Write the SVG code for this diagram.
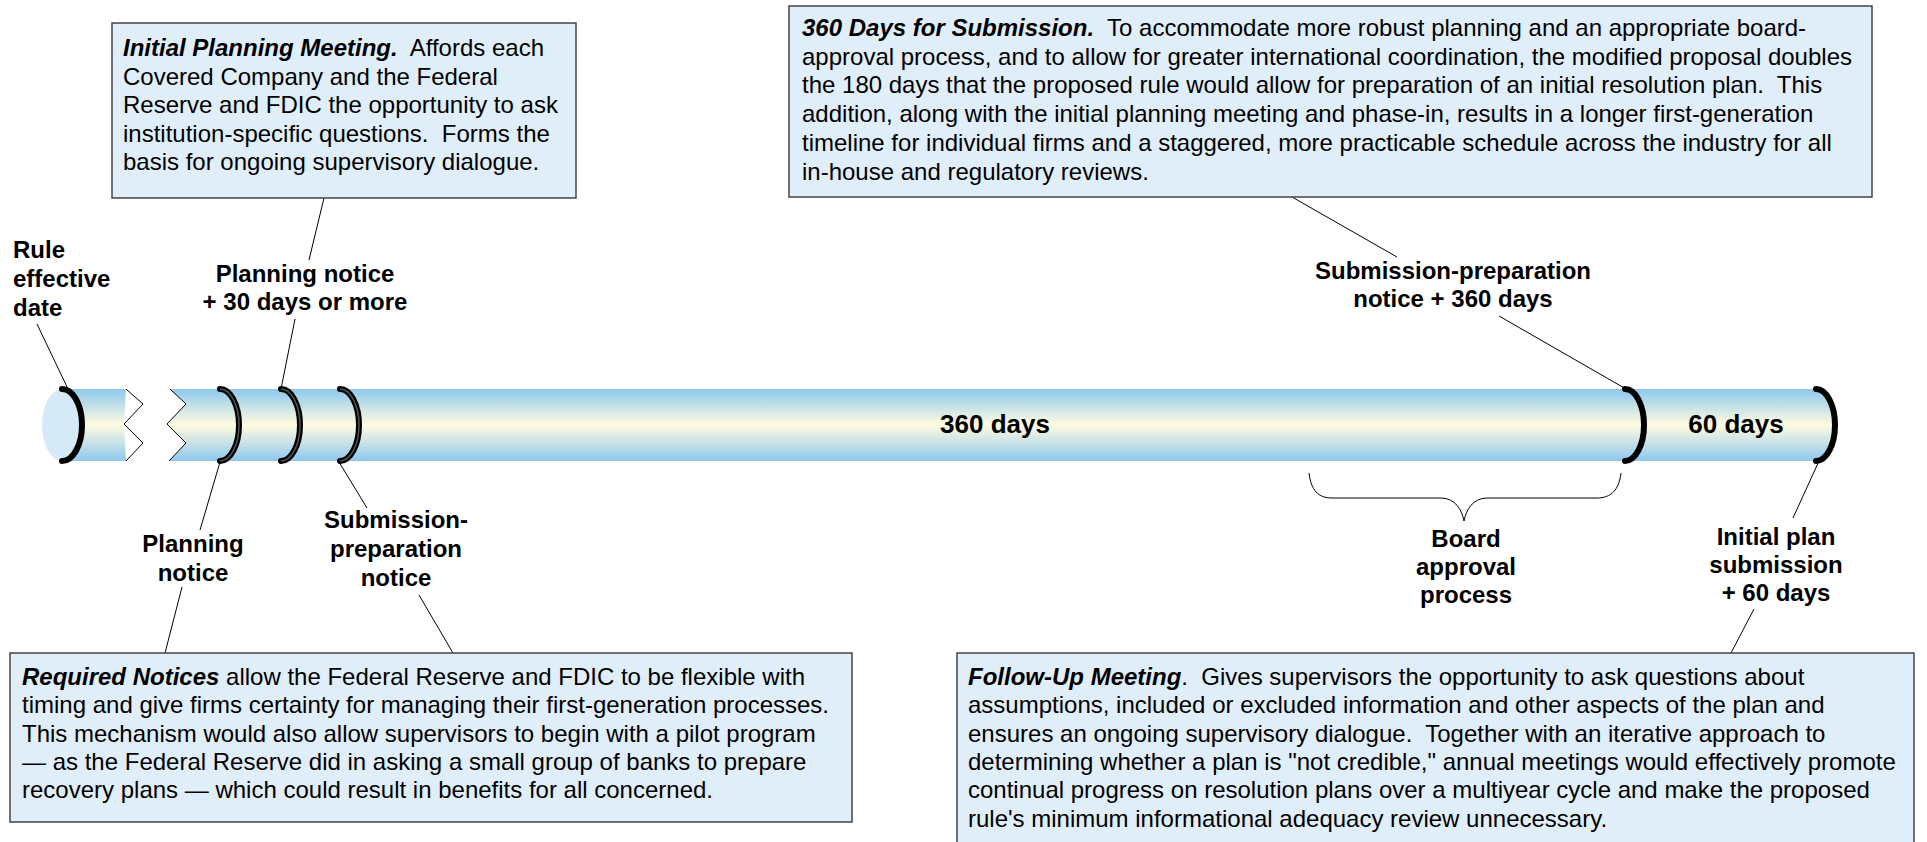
<svg xmlns="http://www.w3.org/2000/svg" width="1927" height="842" viewBox="0 0 1927 842">
<defs>
<linearGradient id="bar" x1="0" y1="0" x2="0" y2="1">
<stop offset="0" stop-color="#8ec8ee"/>
<stop offset="0.5" stop-color="#fffbe0"/>
<stop offset="1" stop-color="#8ec8ee"/>
</linearGradient>
<style>
.box{fill:#e0eefa;stroke:#444;stroke-width:1.5}
.body{font-family:"Liberation Sans",Arial,sans-serif;font-size:24px;fill:#000;white-space:pre}
.bi{font-weight:bold;font-style:italic}
.lbl{font-family:"Liberation Sans",Arial,sans-serif;font-size:24px;font-weight:bold;fill:#000;text-anchor:middle}
.big{font-size:26px}
.lead{stroke:#000;stroke-width:1;fill:none}
.arc{fill:none;stroke:#000;stroke-width:6;stroke-linecap:round}
.arcin{fill:none;stroke:#555;stroke-width:1.5}
.zig{fill:none;stroke:#000;stroke-width:1}
</style>
</defs>
<rect width="1927" height="842" fill="#fff"/>

<g id="timeline">
<path d="M62,389 L126,389 L124,424 L126,461 L62,461 Z" fill="url(#bar)"/>
<ellipse cx="62" cy="425" rx="20" ry="36" fill="#d5e9f6"/>
<polyline class="zig" points="126,389 143,404 124,424 143,443 126,461"/>
<path d="M170,389 L1815,389 A20,36 0 0 1 1815,461 L169,461 L186,443 L167,424 L186,404 Z" fill="url(#bar)"/>
<polyline class="zig" points="170,389 186,404 167,424 186,443 169,461"/>
<path class="arc" d="M62,389 A20,36 0 0 1 62,461"/>
<path class="arc" d="M220,389 A19,36 0 0 1 220,461"/>
<path class="arcin" d="M220,389 A19,36 0 0 1 220,461"/>
<path class="arc" d="M281,389 A19,36 0 0 1 281,461"/>
<path class="arcin" d="M281,389 A19,36 0 0 1 281,461"/>
<path class="arc" d="M340,389 A19,36 0 0 1 340,461"/>
<path class="arcin" d="M340,389 A19,36 0 0 1 340,461"/>
<path class="arc" d="M1625,389 A19,36 0 0 1 1625,461"/>
<path class="arc" d="M1816,389 A19,36 0 0 1 1816,461"/>
<text class="lbl big" x="995" y="433">360 days</text>
<text class="lbl big" x="1736" y="433">60 days</text>
</g>

<g id="brace">
<path class="lead" stroke-width="1.5" d="M1309,473 C1311,490 1318,498 1332,498 L1441,498 C1455,498 1462,510 1464,521 C1466,510 1473,498 1487,498 L1597,498 C1611,498 1619,490 1621,473"/>
</g>

<g id="connectors">
<line class="lead" x1="37" y1="324" x2="68" y2="389"/>
<line class="lead" x1="324" y1="198" x2="309" y2="260"/>
<line class="lead" x1="295" y1="319" x2="281" y2="389"/>
<line class="lead" x1="220" y1="462" x2="200" y2="530"/>
<line class="lead" x1="339" y1="462" x2="367" y2="508"/>
<line class="lead" x1="182" y1="587" x2="165" y2="653"/>
<line class="lead" x1="419" y1="595" x2="453" y2="653"/>
<line class="lead" x1="1292" y1="197" x2="1397" y2="257"/>
<line class="lead" x1="1499" y1="316" x2="1626" y2="389"/>
<line class="lead" x1="1819" y1="461" x2="1793" y2="518"/>
<line class="lead" x1="1754" y1="609" x2="1731" y2="653"/>
</g>

<g id="label-rule">
<text class="lbl" style="text-anchor:start" x="13"><tspan x="13" y="258">Rule</tspan><tspan x="13" y="287">effective</tspan><tspan x="13" y="316">date</tspan></text>
</g>
<g id="label-planning-30">
<text class="lbl"><tspan x="305" y="282">Planning notice</tspan><tspan x="305" y="310">+ 30 days or more</tspan></text>
</g>
<g id="label-planning-notice">
<text class="lbl"><tspan x="193" y="552">Planning</tspan><tspan x="193" y="581">notice</tspan></text>
</g>
<g id="label-subprep-notice">
<text class="lbl"><tspan x="396" y="528">Submission-</tspan><tspan x="396" y="557">preparation</tspan><tspan x="396" y="586">notice</tspan></text>
</g>
<g id="label-subprep-360">
<text class="lbl"><tspan x="1453" y="279">Submission-preparation</tspan><tspan x="1453" y="307">notice + 360 days</tspan></text>
</g>
<g id="label-board">
<text class="lbl"><tspan x="1466" y="547">Board</tspan><tspan x="1466" y="575">approval</tspan><tspan x="1466" y="603">process</tspan></text>
</g>
<g id="label-initial-plan">
<text class="lbl"><tspan x="1776" y="545">Initial plan</tspan><tspan x="1776" y="573">submission</tspan><tspan x="1776" y="601">+ 60 days</tspan></text>
</g>

<g id="box-initial-planning">
<rect class="box" x="112" y="23" width="464" height="175"/>
<text class="body"><tspan x="123" y="56"><tspan class="bi">Initial Planning Meeting.</tspan>  Affords each</tspan><tspan x="123" y="84.5">Covered Company and the Federal</tspan><tspan x="123" y="113">Reserve and FDIC the opportunity to ask</tspan><tspan x="123" y="141.5">institution-specific questions.  Forms the</tspan><tspan x="123" y="170">basis for ongoing supervisory dialogue.</tspan></text>
</g>

<g id="box-360-days">
<rect class="box" x="789" y="6" width="1083" height="191"/>
<text class="body"><tspan x="802" y="36"><tspan class="bi">360 Days for Submission.</tspan>  To accommodate more robust planning and an appropriate board-</tspan><tspan x="802" y="64.7">approval process, and to allow for greater international coordination, the modified proposal doubles</tspan><tspan x="802" y="93.4">the 180 days that the proposed rule would allow for preparation of an initial resolution plan.  This</tspan><tspan x="802" y="122.1">addition, along with the initial planning meeting and phase-in, results in a longer first-generation</tspan><tspan x="802" y="150.8">timeline for individual firms and a staggered, more practicable schedule across the industry for all</tspan><tspan x="802" y="179.5">in-house and regulatory reviews.</tspan></text>
</g>

<g id="box-required-notices">
<rect class="box" x="10" y="653" width="842" height="169"/>
<text class="body"><tspan x="22" y="685"><tspan class="bi">Required Notices</tspan> allow the Federal Reserve and FDIC to be flexible with</tspan><tspan x="22" y="713.3">timing and give firms certainty for managing their first-generation processes.</tspan><tspan x="22" y="741.6">This mechanism would also allow supervisors to begin with a pilot program</tspan><tspan x="22" y="769.9">— as the Federal Reserve did in asking a small group of banks to prepare</tspan><tspan x="22" y="798.2">recovery plans — which could result in benefits for all concerned.</tspan></text>
</g>

<g id="box-follow-up">
<rect class="box" x="957" y="653" width="957" height="200"/>
<text class="body"><tspan x="968" y="685"><tspan class="bi">Follow-Up Meeting</tspan>.  Gives supervisors the opportunity to ask questions about</tspan><tspan x="968" y="713.3">assumptions, included or excluded information and other aspects of the plan and</tspan><tspan x="968" y="741.6">ensures an ongoing supervisory dialogue.  Together with an iterative approach to</tspan><tspan x="968" y="769.9">determining whether a plan is "not credible," annual meetings would effectively promote</tspan><tspan x="968" y="798.2">continual progress on resolution plans over a multiyear cycle and make the proposed</tspan><tspan x="968" y="826.5">rule's minimum informational adequacy review unnecessary.</tspan></text>
</g>
</svg>
